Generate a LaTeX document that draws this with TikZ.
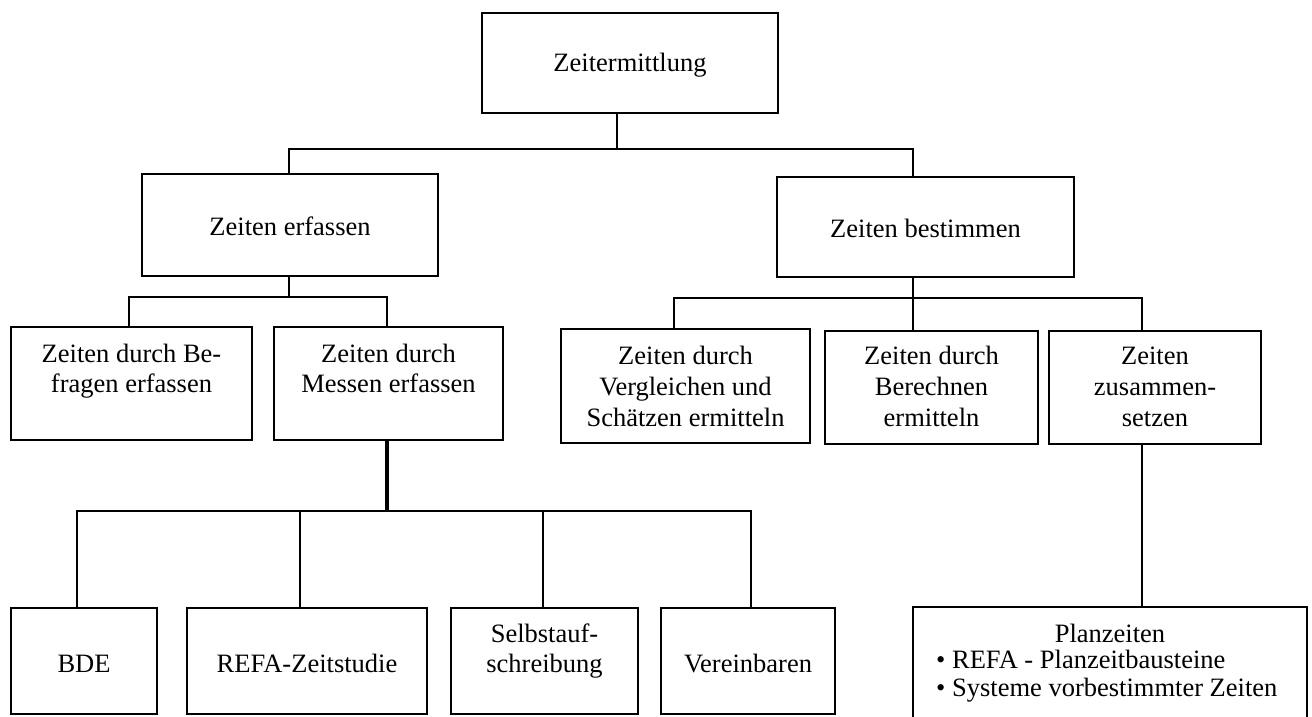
\documentclass[tikz,border=0pt]{standalone}
\usepackage{fontspec}
\setmainfont{Liberation Serif}
\begin{document}
\begin{tikzpicture}[x=1pt,y=-1pt,
  boxs/.style={draw=black, line width=1.8pt, inner sep=0pt},
  txt/.style={anchor=base, inner sep=0pt, font=\fontsize{26.5}{30}\selectfont},
  txtl/.style={anchor=base west, inner sep=0pt, font=\fontsize{26.5}{30}\selectfont},
  conn/.style={draw=black, line width=2.4pt},
  thickconn/.style={draw=black, line width=3.2pt}]
\useasboundingbox (0,0) rectangle (1312,717);
\clip (0,0) rectangle (1312,717);
\fill[white] (0,0) rectangle (1312,717);

% boxes
\node[boxs, minimum width=296, minimum height=100] (top) at (630,63) {};
\node[boxs, minimum width=296, minimum height=102] (erf) at (290,225) {};
\node[boxs, minimum width=297, minimum height=100] (bes) at (925.5,227) {};
\node[boxs, minimum width=241, minimum height=113] (bef) at (131.5,383.5) {};
\node[boxs, minimum width=229, minimum height=113] (mes) at (388.5,383.5) {};
\node[boxs, minimum width=249, minimum height=114] (ver) at (685.5,386) {};
\node[boxs, minimum width=213, minimum height=113] (ber) at (931.5,387.5) {};
\node[boxs, minimum width=212, minimum height=113] (zus) at (1155,387.5) {};
\node[boxs, minimum width=146, minimum height=106] (bde) at (84,661) {};
\node[boxs, minimum width=240, minimum height=106] (ref) at (307,661) {};
\node[boxs, minimum width=187, minimum height=106] (sel) at (544.5,661) {};
\node[boxs, minimum width=174, minimum height=106] (vrb) at (748,661) {};
\node[boxs, minimum width=394, minimum height=133] (plz) at (1110,673.5) {};

% texts
\node[txt] (t-top) at (630,72) {Zeitermittlung};
\node[txt] (t-erf) at (290,235) {Zeiten erfassen};
\node[txt] (t-bes) at (925.5,237) {Zeiten bestimmen};
\node[txt] (t-bef1) at (131.5,362) {Zeiten durch Be-};
\node[txt] (t-bef2) at (131.5,392) {fragen erfassen};
\node[txt] (t-mes1) at (388.5,362) {Zeiten durch};
\node[txt] (t-mes2) at (388.5,392) {Messen erfassen};
\node[txt] (t-ver1) at (685.5,364) {Zeiten durch};
\node[txt] (t-ver2) at (685.5,395) {Vergleichen und};
\node[txt] (t-ver3) at (685.5,426) {Schätzen ermitteln};
\node[txt] (t-ber1) at (931.5,364) {Zeiten durch};
\node[txt] (t-ber2) at (931.5,395) {Berechnen};
\node[txt] (t-ber3) at (931.5,426) {ermitteln};
\node[txt] (t-zus1) at (1155,364) {Zeiten};
\node[txt] (t-zus2) at (1155,395) {zusammen-};
\node[txt] (t-zus3) at (1155,426) {setzen};
\node[txt] (t-bde) at (84,672) {BDE};
\node[txt] (t-ref) at (307,672) {REFA-Zeitstudie};
\node[txt] (t-sel1) at (544.5,642) {Selbstauf-};
\node[txt] (t-sel2) at (544.5,672) {schreibung};
\node[txt] (t-vrb) at (748,672) {Vereinbaren};
\node[txt] (t-plz) at (1110,642) {Planzeiten};
\node[txtl] (t-plz1) at (936,668) {• REFA - Planzeitbausteine};
\node[txtl] (t-plz2) at (936,696) {• Systeme vorbestimmter Zeiten};

% junction coordinates
\coordinate (c1) at (617,149);
\coordinate (c1l) at (289,149);
\coordinate (c1r) at (913,149);
\coordinate (c3) at (289,297);
\coordinate (c3l) at (129,297);
\coordinate (c3r) at (387,297);
\coordinate (c4l) at (674,298);
\coordinate (c4r) at (1142,298);
\coordinate (c5) at (387,511);
\coordinate (c5a) at (77,511);
\coordinate (c5b) at (300,511);
\coordinate (c5c) at (543,511);
\coordinate (c5d) at (751,511);

% connectors
\draw[conn] (top.south -| c1) -- (c1);
\draw[conn] (erf.north -| c1l) |- (c1r) -- (bes.north -| c1r);
\draw[conn] (erf.south -| c3) -- (c3);
\draw[conn] (bef.north -| c3l) |- (c3r) -- (mes.north -| c3r);
\draw[conn] (bes.south -| c1r) -- (ber.north -| c1r);
\draw[conn] (ver.north -| c4l) |- (c4r) -- (zus.north -| c4r);
\draw[thickconn] (mes.south -| c5) -- (c5);
\draw[conn] (bde.north -| c5a) |- (c5d) -- (vrb.north -| c5d);
\draw[conn] (c5b) -- (ref.north -| c5b);
\draw[conn] (c5c) -- (sel.north -| c5c);
\draw[conn] (zus.south -| c4r) -- (plz.north -| c4r);
\end{tikzpicture}
\end{document}
